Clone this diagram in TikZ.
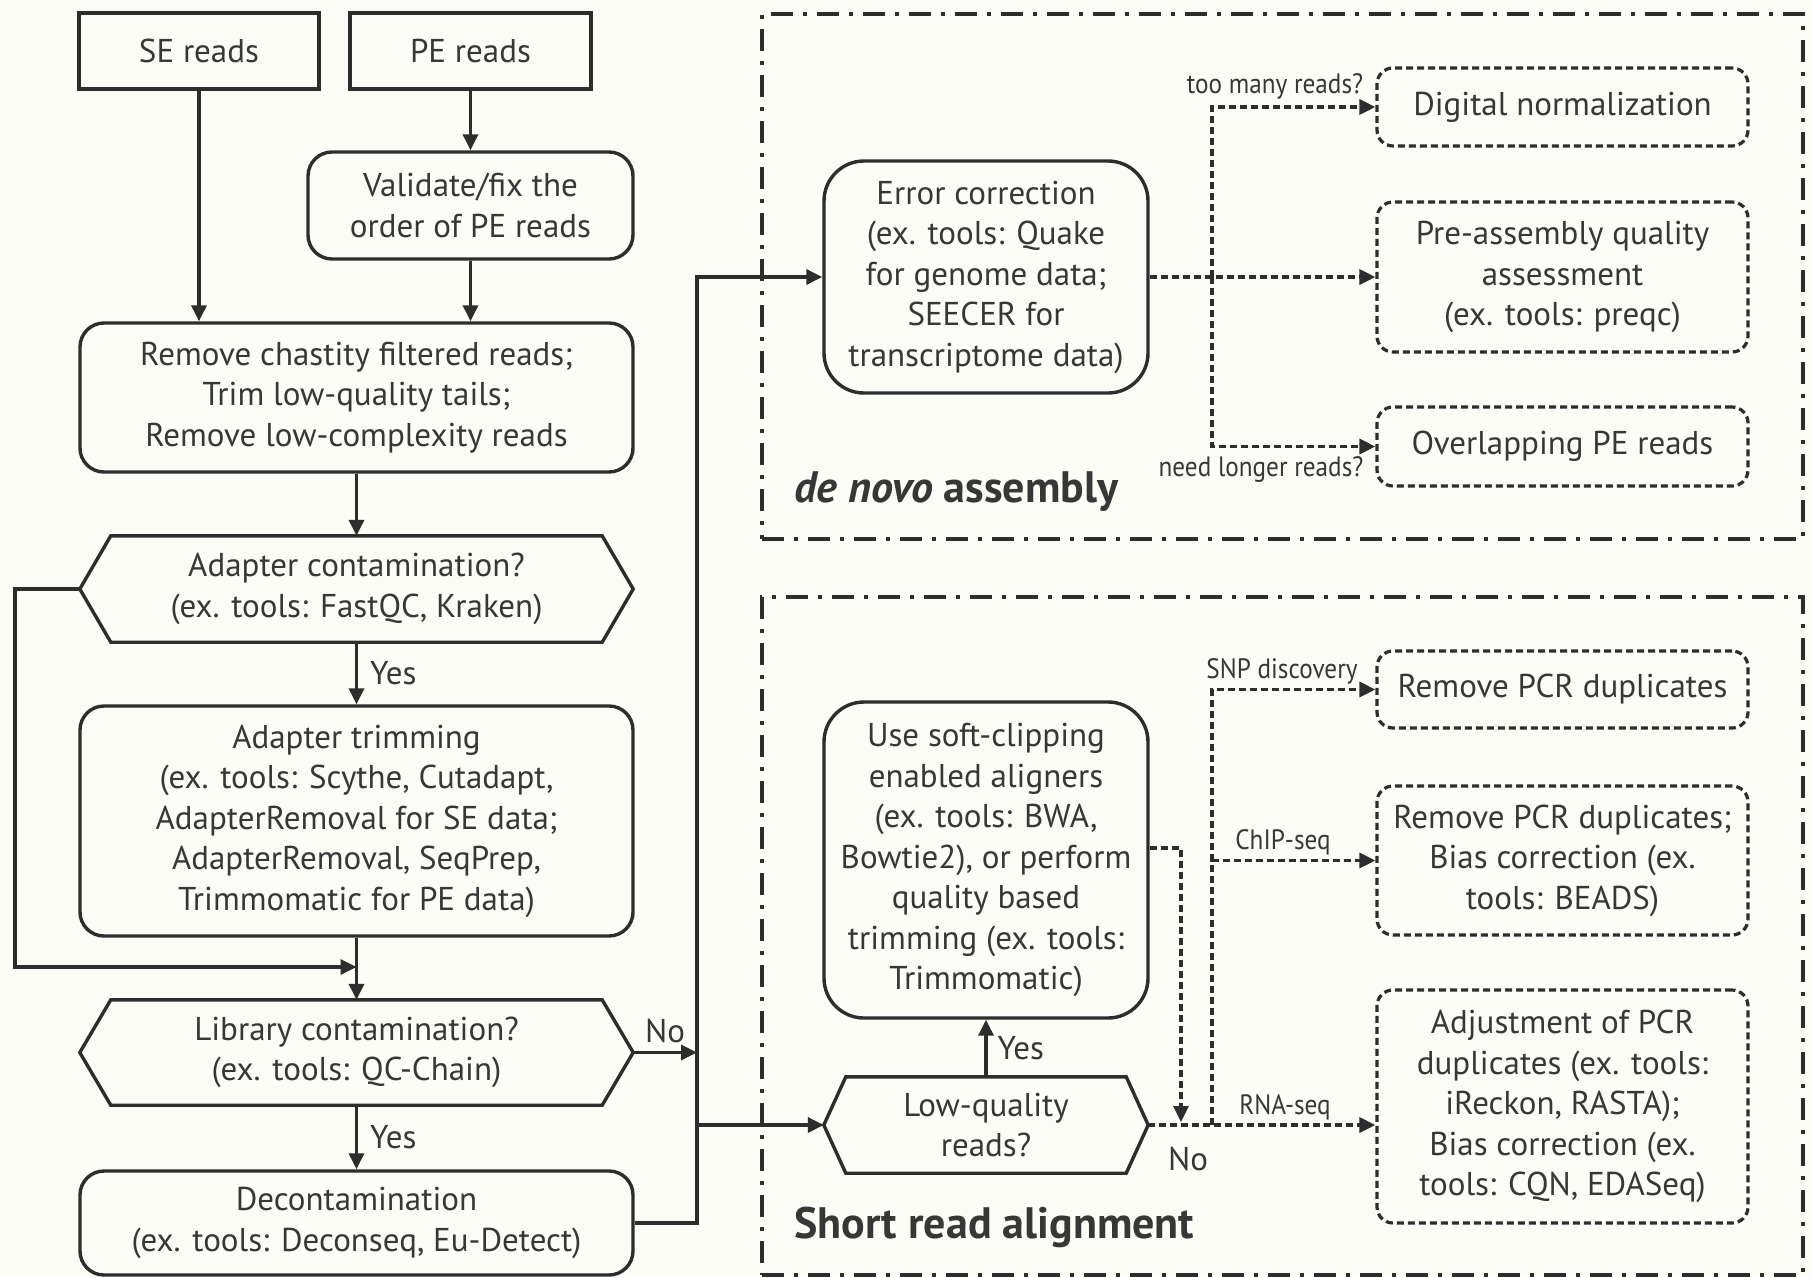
\documentclass[tikz,border=0pt]{standalone}
\usepackage{fontspec}
\setmainfont{PT Sans}
\newfontfamily\condfont[FakeStretch=0.9]{PT Sans}
\usetikzlibrary{arrows.meta,calc}
\definecolor{bg}{RGB}{252,252,246}
\definecolor{ink}{RGB}{45,45,45}
\definecolor{tink}{RGB}{55,55,55}
\begin{document}
\begin{tikzpicture}[x=1pt,y=-1pt,
  every node/.style={text=tink},
  txt/.style={align=center, inner sep=0pt, font=\fontsize{33}{40.5}\selectfont},
  sbox/.style={txt, draw=ink, line width=3.4pt},
  rbox/.style={sbox, rounded corners=24pt},
  hexn/.style={txt},
  dbox/.style={txt, draw=ink, line width=3.2pt, dash pattern=on 7pt off 4pt, rounded corners=16pt},
  hexline/.style={draw=ink, line width=3.4pt, line join=miter},
  conn/.style={draw=ink, line width=3.4pt, -{Triangle[length=16pt,width=15pt]}},
  dconn/.style={draw=ink, line width=3.2pt, dash pattern=on 7pt off 4pt, -{Triangle[length=16pt,width=15pt]}},
  frame/.style={draw=ink, line width=3.2pt, dash pattern=on 22pt off 10pt on 4pt off 10pt, inner sep=0pt},
  lbl/.style={txt},
  small/.style={inner sep=0pt, font=\condfont\fontsize{28}{30}\selectfont},
  title/.style={anchor=west, inner sep=0pt, font=\fontsize{44}{46}\selectfont\bfseries}
]
\fill[bg] (0,0) rectangle (1812,1277);
\useasboundingbox (0,0) rectangle (1812,1277);

% containers
\node[frame, minimum width=1041pt, minimum height=525pt] (dnbox) at (1282.5,276.5) {};
\node[frame, minimum width=1041pt, minimum height=678pt] (srbox) at (1282.5,936) {};
\node[title] (dnt) at (794,492) {\textit{de novo} assembly};
\node[title] (srt) at (794,1227) {Short read alignment};

% left column
\node[sbox, minimum width=240pt, minimum height=76pt] (se) at (199,51) {SE reads};
\node[sbox, minimum width=241pt, minimum height=76pt] (pe) at (470.5,51) {PE reads};
\node[rbox, minimum width=325pt, minimum height=107pt] (val) at (470.5,205.5) {Validate/fix the\\order of PE reads};
\node[rbox, minimum width=553pt, minimum height=149pt] (rcf) at (356.5,397.5) {Remove chastity filtered reads;\\Trim low-quality tails;\\Remove low-complexity reads};
\node[hexn, minimum width=553pt, minimum height=106pt] (adc) at (356.5,589) {Adapter contamination?\\(ex. tools: FastQC, Kraken)};
\draw[hexline] (adc.west) -- ([xshift=31pt]adc.north west) -- ([xshift=-31pt]adc.north east) -- (adc.east) -- ([xshift=-31pt]adc.south east) -- ([xshift=31pt]adc.south west) -- cycle;
\node[rbox, minimum width=553pt, minimum height=230pt] (adt) at (356.5,821) {Adapter trimming\\(ex. tools: Scythe, Cutadapt,\\AdapterRemoval for SE data;\\AdapterRemoval, SeqPrep,\\Trimmomatic for PE data)};
\node[hexn, minimum width=553pt, minimum height=105pt] (lib) at (356.5,1052.5) {Library contamination?\\(ex. tools: QC-Chain)};
\draw[hexline] (lib.west) -- ([xshift=31pt]lib.north west) -- ([xshift=-31pt]lib.north east) -- (lib.east) -- ([xshift=-31pt]lib.south east) -- ([xshift=31pt]lib.south west) -- cycle;
\node[rbox, minimum width=553pt, minimum height=104pt] (dec) at (356.5,1223) {Decontamination\\(ex. tools: Deconseq, Eu-Detect)};

\coordinate (loopx) at (15,0);
\coordinate (bus) at (697,0);
\coordinate (merge) at (356.5,967);

\draw[conn] (se.south) -- (se.south |- rcf.north);
\draw[conn] (pe.south) -- (val.north);
\draw[conn] (val.south) -- (val.south |- rcf.north);
\draw[conn] (rcf.south) -- (adc.north);
\draw[conn] (adc.south) -- node[lbl, right=12pt] (y1) {Yes} (adt.north);
\draw[conn] (adc.west) -- (adc.west -| loopx) |- (merge);
\draw[conn] (adt.south) -- (lib.north);
\draw[conn] (lib.south) -- node[lbl, right=12pt] (y2) {Yes} (dec.north);
\draw[conn] (lib.east) -- node[lbl, above=8pt] (n1) {No} (lib.east -| bus);

% de novo
\node[rbox, rounded corners=40pt, minimum width=324pt, minimum height=232pt] (ec) at (986,277) {Error correction\\(ex. tools: Quake\\for genome data;\\SEECER for\\transcriptome data)};
\node[dbox, minimum width=371pt, minimum height=78pt] (dn) at (1562.5,107) {Digital normalization};
\node[dbox, minimum width=371pt, minimum height=150pt] (paq) at (1562.5,277) {Pre-assembly quality\\assessment\\(ex. tools: preqc)};
\node[dbox, minimum width=371pt, minimum height=79pt] (ope) at (1562.5,446.5) {Overlapping PE reads};

\draw[conn] (dec.east) -- (dec.east -| bus) |- (ec.west);

\coordinate (vx) at (1212,0);
\draw[dconn] (ec.east) -- (paq.west);
\draw[dconn] (ec.east -| vx) |- (dn.west);
\draw[dconn] (ec.east -| vx) |- (ope.west);
\node[small] (l1) at (1275,86) {too many reads?};
\node[small] (l2) at (1261,469) {need longer reads?};

% short read
\node[rbox, rounded corners=40pt, minimum width=324pt, minimum height=316pt] (sc) at (986,860) {Use soft-clipping\\enabled aligners\\(ex. tools: BWA,\\Bowtie2), or perform\\quality based\\trimming (ex. tools:\\Trimmomatic)};
\node[hexn, minimum width=324pt, minimum height=96pt] (lq) at (986,1125) {Low-quality\\reads?};
\draw[hexline] (lq.west) -- ([xshift=22pt]lq.north west) -- ([xshift=-22pt]lq.north east) -- (lq.east) -- ([xshift=-22pt]lq.south east) -- ([xshift=22pt]lq.south west) -- cycle;

\draw[conn] (lq.west -| bus) -- (lq.west);
\draw[conn] (lq.north) -- node[lbl, right=10pt] (y3) {Yes} (sc.south);

\node[dbox, minimum width=371pt, minimum height=77pt] (rpd) at (1562.5,689.5) {Remove PCR duplicates};
\node[dbox, minimum width=371pt, minimum height=149pt] (rpb) at (1562.5,860.5) {Remove PCR duplicates;\\Bias correction (ex.\\tools: BEADS)};
\node[dbox, minimum width=371pt, minimum height=233pt] (adj) at (1562.5,1106.5) {Adjustment of PCR\\duplicates (ex. tools:\\iReckon, RASTA);\\Bias correction (ex.\\tools: CQN, EDASeq)};

\coordinate (dtip) at (1181,1122);
\draw[dconn] ([yshift=12pt]sc.east) -| (dtip);
\draw[dconn] (lq.east) -- (lq.east -| adj.west);
\draw[dconn] (lq.east -| vx) |- (rpd.west);
\draw[dconn] (lq.east -| vx) |- (rpb.west);
\node[lbl] (n2) at (1188,1159) {No};
\node[small] (l3) at (1282,671) {SNP discovery};
\node[small] (l4) at (1283,842) {ChIP-seq};
\node[small] (l5) at (1285,1107) {RNA-seq};
\end{tikzpicture}
\end{document}
